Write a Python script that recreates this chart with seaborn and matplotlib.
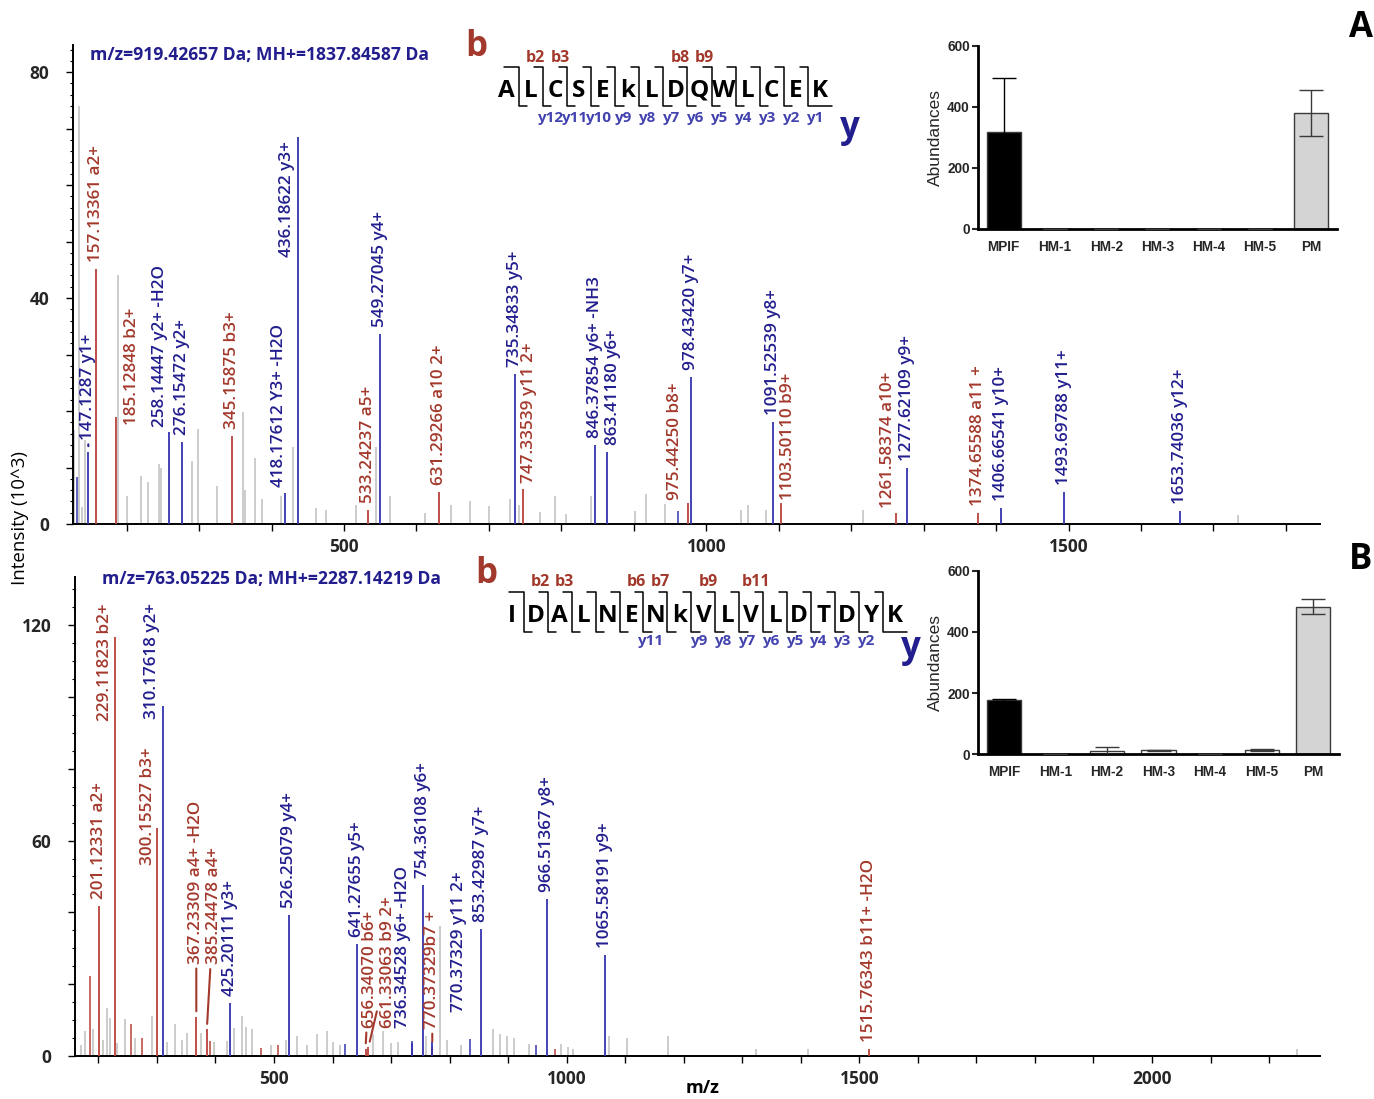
import pandas as pd
import seaborn as sns
import matplotlib.pyplot as plt
from matplotlib.ticker import MultipleLocator, FuncFormatter

sns.set_theme(style="ticks")
plt.rcParams["font.family"] = ["Open Sans", "DejaVu Sans"]

# ---------------- data: panel A spectrum ----------------
a_mz = [147.1287, 157.13361, 185.12848, 258.14447, 276.15472, 345.15875, 418.17612,
        436.18622, 533.24237, 549.27045, 631.29266, 735.34833, 747.33539, 846.37854,
        863.41180, 975.44250, 978.43420, 1091.52539, 1103.50110, 1261.58374, 1277.62109,
        1374.65588, 1406.66541, 1493.69788, 1653.74036]
a_int = [12.8, 45.2, 19.0, 16.2, 14.6, 15.5, 5.5, 68.6, 2.5, 33.6, 5.7, 26.5, 6.2, 14.0,
         12.8, 3.7, 26.1, 18.1, 3.7, 2.0, 10.0, 1.9, 2.8, 5.6, 2.3]
a_ion = ["y", "b", "b", "y", "y", "b", "y", "y", "b", "y", "b", "y", "b", "y", "y", "b",
         "y", "y", "b", "b", "y", "b", "y", "y", "y"]
a_labels = ["147.1287 y1+", "157.13361 a2+", "185.12848 b2+", "258.14447 y2+ -H2O",
            "276.15472 y2+", "345.15875 b3+", "418.17612 Y3+ -H2O", "436.18622 y3+",
            "533.24237 a5+", "549.27045 y4+", "631.29266 a10 2+", "735.34833 y5+",
            "747.33539 y11 2+", "846.37854 y6+ -NH3", "863.41180 y6+", "975.44250 b8+",
            "978.43420 y7+", "1091.52539 y8+", "1103.50110 b9+", "1261.58374 a10+",
            "1277.62109 y9+", "1374.65588 a11 +", "1406.66541 y10+", "1493.69788 y11+",
            "1653.74036 y12+"]
a_noise_mz = [128, 134, 143, 138, 188, 201, 220, 230, 245, 248, 290, 299, 325, 360, 363,
              377, 387, 413, 430, 461, 475, 517, 544, 563, 612, 648, 674, 700, 729, 741,
              770, 791, 807, 841, 901, 917, 943, 1048, 1058, 1083, 1216, 1734]
a_noise_int = [16.6, 74.0, 14.8, 3.0, 44.0, 5.0, 8.5, 7.4, 10.6, 10.0, 11.2, 16.8, 6.8,
               19.8, 6.0, 11.6, 4.4, 5.0, 13.6, 2.9, 2.4, 3.3, 13.6, 5.0, 2.0, 3.4, 4.0,
               3.2, 4.4, 3.3, 2.2, 5.0, 1.7, 4.9, 2.3, 5.3, 3.6, 2.5, 3.3, 2.5, 2.5, 1.6]
a_small_mz = [131, 960.5]
a_small_int = [8.4, 2.3]

# ---------------- data: panel B spectrum ----------------
b_mz = [201.12331, 229.11823, 300.15527, 310.17618, 367.23309, 385.24478, 425.20111,
        526.25079, 641.27655, 656.34070, 661.33063, 736.34528, 754.36108, 770.37329,
        770.37329, 853.42987, 966.51367, 1065.58191, 1515.76343]
b_int = [41.8, 116.6, 63.6, 97.4, 10.9, 7.4, 14.8, 39.2, 31.1, 2.0, 2.5, 3.5, 47.6, 2.5,
         4.0, 35.5, 43.6, 28.1, 2.0]
b_ion = ["b", "b", "b", "y", "b", "b", "y", "y", "y", "b", "b", "y", "y", "b", "y", "y",
         "y", "y", "b"]
b_labels = ["201.12331 a2+", "229.11823 b2+", "300.15527 b3+", "310.17618 y2+",
            "367.23309 a4+ -H2O", "385.24478 a4+", "425.20111 y3+", "526.25079 y4+",
            "641.27655 y5+", "656.34070 b6+", "661.33063 b9 2+", "736.34528 y6+ -H2O",
            "754.36108 y6+", "770.37329b7 +", "770.37329 y11 2+", "853.42987 y7+",
            "966.51367 y8+", "1065.58191 y9+", "1515.76343 b11+ -H2O"]
b_noise_mz = [170, 177, 191, 208, 214, 220, 232, 245, 262, 292, 318, 330, 342, 352, 375,
              398, 420, 432, 445, 452, 462, 495, 520, 540, 556, 573, 591, 600, 612, 669,
              687, 700, 712, 760, 784, 795, 820, 874, 886, 898, 910, 935, 990, 1003, 1010,
              1072, 1103, 1173, 1323, 1412, 2247]
b_noise_int = [3.0, 7.0, 7.4, 4.5, 13.5, 10.7, 3.7, 10.2, 5.0, 11.1, 4.0, 8.8, 4.5, 6.5,
               6.5, 4.0, 4.2, 7.9, 11.1, 8.0, 7.4, 3.0, 4.5, 5.6, 3.0, 6.0, 7.0, 4.0, 3.2,
               6.0, 7.0, 3.5, 4.0, 5.6, 36.2, 4.5, 3.0, 7.4, 6.0, 5.6, 5.1, 3.3, 3.3, 2.5,
               2.0, 5.7, 5.0, 5.6, 1.9, 2.0, 2.0]
b_small_red_mz = [186, 255, 275, 391, 478, 506, 980]
b_small_red_int = [22.3, 8.8, 5.1, 4.2, 2.1, 3.2, 1.9]
b_small_blue_mz = [622, 735, 835, 947.6]
b_small_blue_int = [3.4, 4.2, 4.6, 3.0]

# ---------------- data: insets ----------------
groups = ["MPIF", "HM-1", "HM-2", "HM-3", "HM-4", "HM-5", "PM"]
ins_a_mean = [317, 0, 0, 0, 0, 0, 380]
ins_a_err = [177, 0, 0, 0, 0, 0, 75]
ins_b_mean = [177, 0, 10, 12, 0, 13, 483]
ins_b_err = [2, 0, 12, 2, 0, 3, 24]

seq_a = "ALCSEkLDQWLCEK"
seq_a_b = [2, 3, 8, 9]
seq_a_y = [12, 11, 10, 9, 8, 7, 6, 5, 4, 3, 2, 1]
seq_b = "IDALNENkVLVLDTDYK"
seq_b_b = [2, 3, 6, 7, 9, 11]
seq_b_y = [11, 9, 8, 7, 6, 5, 4, 3, 2]

# ---------------- styles ----------------
RED_TXT = "#A3392C"
BLUE_TXT = "#221E8E"
RED_LINE = "#B8423A"
BLUE_LINE = "#3434AE"
GRAY = "#BEBEBE"
SEQ_BLUE = "#4343B0"
BAR_COLORS = ["black", "white", "white", "white", "white", "white", "#D4D4D4"]

# label nudges in pixels: (dx, dy, va, connector)
nudges_a = {
    "147.1287 y1+": (0, 12, "bottom", True),
    "185.12848 b2+": (16, -8, "bottom", False),
    "258.14447 y2+ -H2O": (-9, 5, "bottom", False),
    "418.17612 Y3+ -H2O": (-6, 6, "bottom", False),
    "436.18622 y3+": (-11, -5, "top", False),
    "747.33539 y11 2+": (6, 6, "bottom", False),
    "863.41180 y6+": (6, 7, "bottom", False),
    "975.44250 b8+": (-13, 3, "bottom", False),
    "1103.50110 b9+": (7, 3, "bottom", False),
    "1261.58374 a10+": (-8, 5, "bottom", False),
}
nudges_b = {
    "229.11823 b2+": (-10, 34, "top", False),
    "300.15527 b3+": (-9, 80, "top", False),
    "310.17618 y2+": (-11, 103, "top", False),
    "367.23309 a4+ -H2O": (0, 53, "bottom", True),
    "385.24478 a4+": (7, 65, "bottom", True),
    "656.34070 b6+": (4, 21, "bottom", True),
    "661.33063 b9 2+": (20, 19, "bottom", True),
    "736.34528 y6+ -H2O": (-9, 15, "bottom", False),
    "770.37329b7 +": (0, 18, "bottom", True),
    "770.37329 y11 2+": (27, 30, "bottom", False),
}

fig = plt.figure(figsize=(13.74, 10.99), dpi=100)
ax_a = fig.add_axes([0.05313, 0.52320, 0.90757, 0.43585])
ax_b = fig.add_axes([0.05459, 0.03913, 0.90611, 0.43585])


def draw_spectrum(ax, mz, inten, ions, labels, nudges):
    for m, h, ion, lab in zip(mz, inten, ions, labels):
        line_c = RED_LINE if ion == "b" else BLUE_LINE
        txt_c = RED_TXT if ion == "b" else BLUE_TXT
        ax.vlines(m, 0, h, color=line_c, lw=1.3, zorder=3)
        dx, dy, va, link = nudges.get(lab, (0, 7, "bottom", False))
        arrow = dict(arrowstyle="-", color=txt_c, lw=1.5, shrinkA=1, shrinkB=4) if link else None
        ax.annotate(lab, xy=(m, h), xytext=(dx, dy), textcoords="offset pixels",
                    rotation=90, ha="center", va=va, color=txt_c, fontsize=12.3,
                    fontweight="semibold", arrowprops=arrow, zorder=4)


def style_main(ax, xlim, ylim, ymajor, ylabel_every, yminor):
    ax.set_xlim(*xlim)
    ax.set_ylim(*ylim)
    sns.despine(ax=ax)
    for s in ["left", "bottom"]:
        ax.spines[s].set_linewidth(1.4)
        ax.spines[s].set_color("black")
    ax.xaxis.set_major_locator(MultipleLocator(100))
    ax.xaxis.set_major_formatter(FuncFormatter(lambda v, p: f"{v:.0f}" if round(v) % 500 == 0 else ""))
    ax.yaxis.set_major_locator(MultipleLocator(ymajor))
    ax.yaxis.set_minor_locator(MultipleLocator(yminor))
    ax.yaxis.set_major_formatter(FuncFormatter(lambda v, p: f"{v:.0f}" if round(v) % ylabel_every == 0 else ""))
    ax.tick_params(axis="both", which="major", length=5, width=1, color="black", labelsize=12.5)
    ax.tick_params(axis="y", which="minor", length=2.5, width=0.8, color="black")
    ax.tick_params(axis="y", pad=12)
    ax.tick_params(axis="x", pad=5)
    for t in ax.get_xticklabels() + ax.get_yticklabels():
        t.set_fontweight("bold")
    ax.set_xlabel("")
    ax.set_ylabel("")


# panel A
ax_a.vlines(a_noise_mz, 0, a_noise_int, color=GRAY, lw=1.1, zorder=1)
ax_a.vlines(a_small_mz, 0, a_small_int, color=BLUE_LINE, lw=1.1, zorder=2)
draw_spectrum(ax_a, a_mz, a_int, a_ion, a_labels, nudges_a)
style_main(ax_a, (126, 1847), (0, 84.8), 10, 40, 2)

# panel B
ax_b.vlines(b_noise_mz, 0, b_noise_int, color=GRAY, lw=1.1, zorder=1)
ax_b.vlines(b_small_red_mz, 0, b_small_red_int, color=RED_LINE, lw=1.1, zorder=2)
ax_b.vlines(b_small_blue_mz, 0, b_small_blue_int, color=BLUE_LINE, lw=1.1, zorder=2)
draw_spectrum(ax_b, b_mz, b_int, b_ion, b_labels, nudges_b)
style_main(ax_b, (160, 2287), (0, 133.4), 20, 60, 5)


# insets
def draw_inset(rect, means, errs):
    ins = fig.add_axes(rect, zorder=5)
    df = pd.DataFrame({"group": groups, "abundance": means})
    sns.barplot(data=df, x="group", y="abundance", hue="group", legend=False,
                palette=BAR_COLORS, edgecolor="#3A3A3A", linewidth=1.0, width=0.66,
                errorbar=None, ax=ins)
    for i, (m, e) in enumerate(zip(means, errs)):
        ec = "black" if BAR_COLORS[i] == "black" else "#3A3A3A"
        ins.errorbar(i, m, yerr=e, fmt="none", ecolor=ec, elinewidth=1.0,
                     capsize=8.5, capthick=1.0, zorder=4)
    ins.set_xlim(-0.5, 6.5)
    ins.set_ylim(0, 600)
    ins.set_yticks([0, 200, 400, 600])
    sns.despine(ax=ins)
    for s in ["left", "bottom"]:
        ins.spines[s].set_linewidth(2.0)
        ins.spines[s].set_color("black")
    ins.set_facecolor("white")
    ins.set_xlabel("")
    ins.set_ylabel("Abundances", fontsize=12.5, family=["Liberation Sans"], labelpad=3)
    ins.tick_params(axis="x", length=0, pad=8)
    ins.tick_params(axis="y", length=4, width=1.5, pad=2)
    for t in ins.get_xticklabels() + ins.get_yticklabels():
        t.set_fontweight("bold")
        t.set_family(["Liberation Sans"])
        t.set_fontsize(9.8)
    return ins


draw_inset([0.71179, 0.79163, 0.26128, 0.16652], ins_a_mean, ins_a_err)
draw_inset([0.71179, 0.31392, 0.26274, 0.16652], ins_b_mean, ins_b_err)

# overlay in pixel coordinates for texts and sequence maps
ov = fig.add_axes([0, 0, 1, 1], zorder=10)
ov.set_xlim(0, 1374)
ov.set_ylim(1099, 0)
ov.axis("off")
ov.patch.set_alpha(0)


def draw_sequence(seq, b_ions, y_ions, x0, step, base, y_top, y_bot, b_base, y_base):
    n = len(seq)
    for i, ch in enumerate(seq):
        ov.text(x0 + i * step, base, ch, ha="center", va="baseline", fontsize=17.5,
                fontweight="bold", color="black")
    for g in range(1, n):
        gx = x0 + (g - 0.5) * step
        left = gx - (0.62 * step if g == 1 else 0.35 * step)
        right = gx + (step if g == n - 1 else 0.35 * step)
        ov.plot([left, gx, gx, right], [y_top, y_top, y_bot, y_bot], color="black", lw=1.1)
    for k in b_ions:
        gx = x0 + (k - 0.5) * step
        ov.text(gx - 7, b_base, f"b{k}", ha="center", va="baseline", fontsize=11.5,
                fontweight="bold", color=RED_TXT)
    for k in y_ions:
        gx = x0 + (n - k - 0.5) * step
        ov.text(gx + 7, y_base, f"y{k}", ha="center", va="baseline", fontsize=11,
                fontweight="bold", color=SEQ_BLUE)


draw_sequence(seq_a, seq_a_b, seq_a_y, 506.7, 24.1, 96.7, 66.7, 106, 62, 122)
draw_sequence(seq_b, seq_b_b, seq_b_y, 511.7, 23.96, 621.7, 591.7, 631.7, 586, 645)

ov.text(476, 47, "b", ha="center", va="center", fontsize=25, fontweight="bold", color=RED_TXT)
ov.text(850, 128, "y", ha="center", va="center", fontsize=25, fontweight="bold", color=BLUE_TXT)
ov.text(486, 574, "b", ha="center", va="center", fontsize=25, fontweight="bold", color=RED_TXT)
ov.text(911, 648, "y", ha="center", va="center", fontsize=25, fontweight="bold", color=BLUE_TXT)

ov.text(90, 55, "m/z=919.42657 Da; MH+=1837.84587 Da", ha="left", va="center",
        fontsize=12.6, fontweight="bold", color=BLUE_TXT)
ov.text(102, 579, "m/z=763.05225 Da; MH+=2287.14219 Da", ha="left", va="center",
        fontsize=12.6, fontweight="bold", color=BLUE_TXT)

ov.text(1361, 28, "A", ha="center", va="center", fontsize=25, fontweight="bold", color="black")
ov.text(1361, 560, "B", ha="center", va="center", fontsize=25, fontweight="bold", color="black")

ov.text(20, 518, "Intensity (10^3)", rotation=90, ha="center", va="center", fontsize=13.5,
        color="black")
ov.text(703, 1088, "m/z", ha="center", va="center", fontsize=13, fontweight="bold",
        color="black")

fig.savefig("out.png", dpi=100)
